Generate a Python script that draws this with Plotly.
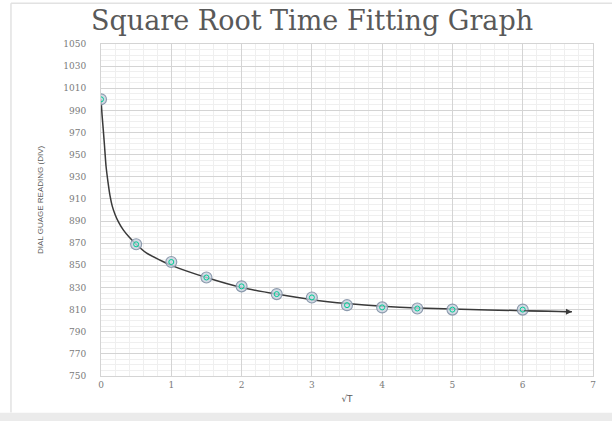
import plotly.graph_objects as go

# Observed readings (sqrt time vs dial gauge reading)
sqrt_t = [0, 0.5, 1, 1.5, 2, 2.5, 3, 3.5, 4, 4.5, 5, 6]
reading = [1000, 869, 853, 839, 831, 824, 821, 814, 812, 811, 810, 810]

# Hand-fitted curve
curve_x = [0, 0.015, 0.033, 0.05, 0.071, 0.1, 0.128, 0.16, 0.2, 0.25, 0.317,
           0.4, 0.484, 0.65, 0.88, 1.0, 1.5, 2.0, 2.5, 3.0, 3.5, 4.0, 4.5,
           5.0, 6.0, 6.7]
curve_y = [1000, 986, 972, 958, 940, 925, 913, 903.5, 896, 889, 882,
           875.5, 870, 861, 853.5, 850, 839, 830, 824, 819, 815.5, 813, 811.5,
           810.5, 809, 808]

x_ticks = [0, 1, 2, 3, 4, 5, 6, 7]
y_ticks = list(range(750, 1051, 20))

title_text = "Square Root Time Fitting Graph"
x_title = "√T"
y_title = "DIAL GUAGE READING (DIV)"

fig = go.Figure()

fig.add_trace(go.Scatter(
    x=curve_x, y=curve_y, mode="lines",
    line=dict(color="#3a3a3a", width=1.5, shape="spline", smoothing=0.5),
    hoverinfo="skip", showlegend=False))

fig.add_trace(go.Scatter(
    x=sqrt_t, y=reading, mode="markers",
    marker=dict(symbol="circle", size=11, color="rgba(200,210,222,0.8)",
                line=dict(color="rgba(130,145,165,0.9)", width=1.1)),
    showlegend=False))
fig.add_trace(go.Scatter(
    x=sqrt_t, y=reading, mode="markers",
    marker=dict(symbol="circle-open", size=5,
                line=dict(color="rgba(125,135,150,0.8)", width=1)),
    hoverinfo="skip", showlegend=False))

# arrowhead at the end of the fitted curve
fig.add_annotation(x=curve_x[-1], y=curve_y[-1], ax=curve_x[-2], ay=curve_y[-2],
                   xref="x", yref="y", axref="x", ayref="y", text="",
                   showarrow=True, arrowhead=2, arrowsize=1.2, arrowwidth=1,
                   arrowcolor="#3a3a3a", standoff=0)

# y-axis title placed as rotated text
fig.add_annotation(x=-0.124, y=0.533, xref="paper", yref="paper", text=y_title,
                   textangle=-90, showarrow=False, xanchor="center", yanchor="middle",
                   font=dict(family="Liberation Sans Narrow, Arial Narrow, Liberation Sans, sans-serif",
                             size=8, color="#595959"))

axis_font = dict(family="DejaVu Serif, serif", size=9, color="#7a7a7a")

fig.update_xaxes(
    range=[0, 7], tickvals=x_ticks, ticktext=[str(v) for v in x_ticks],
    showgrid=True, gridcolor="#d4d4d4", gridwidth=1,
    minor=dict(dtick=0.2, showgrid=True, gridcolor="#efefef", gridwidth=1),
    zeroline=False, showline=True, linecolor="#d4d4d4", mirror=True,
    ticks="", tickfont=axis_font, automargin=False,
    title=dict(text=x_title, font=dict(family="DejaVu Sans, sans-serif", size=9, color="#595959"),
               standoff=6))

fig.update_yaxes(
    range=[750, 1050], tickvals=y_ticks, ticktext=[str(v) for v in y_ticks],
    showgrid=True, gridcolor="#d4d4d4", gridwidth=1,
    minor=dict(dtick=5, showgrid=True, gridcolor="#efefef", gridwidth=1),
    zeroline=False, showline=True, linecolor="#d4d4d4", mirror=True,
    ticks="outside", ticklen=12, tickcolor="rgba(0,0,0,0)", tickfont=axis_font,
    automargin=False)

# outer frame decorations
fig.add_shape(type="line", xref="paper", yref="paper", x0=-0.183, x1=-0.183,
              y0=-0.11, y1=1.123, line=dict(color="#e2e2e2", width=1.5))
fig.add_shape(type="line", xref="paper", yref="paper", x0=-0.183, x1=1.05,
              y0=1.123, y1=1.123, line=dict(color="#e2e2e2", width=1.5))
fig.add_shape(type="rect", xref="paper", yref="paper", x0=-0.3, x1=1.1,
              y0=-0.2, y1=-0.111, line=dict(width=0), fillcolor="#ebebeb")

fig.update_layout(
    width=612, height=421,
    margin=dict(l=101, r=19, t=44, b=45),
    paper_bgcolor="white", plot_bgcolor="white",
    title=dict(text=title_text, x=0.51, xanchor="center", y=0.952, yanchor="middle",
               font=dict(family="DejaVu Serif, serif", size=27, color="#595959")),
)

fig.write_html("out.html", config={"displayModeBar": False},
               post_script="document.body.style.margin='0';")
